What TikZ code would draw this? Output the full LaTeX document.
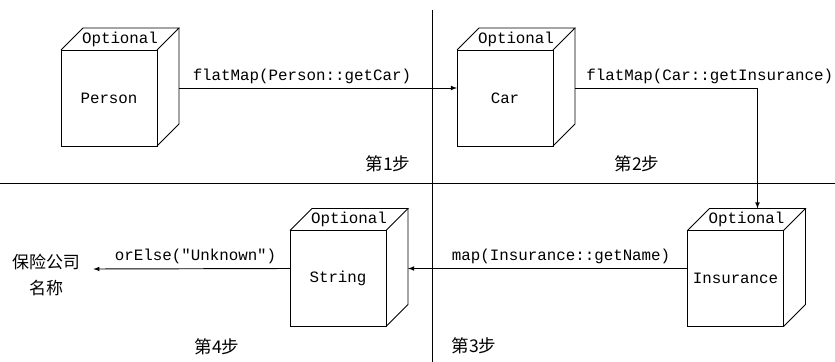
\documentclass[tikz,border=0pt]{standalone}
\usepackage{fontspec}
\setmonofont{Liberation Mono}
\newfontfamily\cjk{Noto Sans CJK SC}
\usetikzlibrary{calc}

\newcommand{\codefont}{\ttfamily\fontsize{13.5}{16}\selectfont}
% top and side of an Optional box
\newcommand{\optcube}[1]{%
  \draw (#1.north west) -- ++(22,22) -- ($(#1.north east)+(22,22)$) -- (#1.north east);
  \draw ($(#1.north east)+(22,22)$) -- ($(#1.south east)+(22,22)$) -- (#1.south east);
  \node[font=\codefont] (#1-opt) at ($(#1.north)+(11,11)$) {Optional};
}

\begin{document}
\begin{tikzpicture}[x=0.03cm,y=0.03cm,line width=0.8pt]
	\tikzset{>=latex}
	\tikzset{
		face/.style={draw, minimum size=2.88cm, inner sep=0pt, outer sep=0pt, font=\codefont},
		code/.style={font=\codefont},
		stepnum/.style={font=\cjk\fontsize{15}{18}\selectfont},
		flow/.style={->},
	}
	\useasboundingbox (0,0) rectangle (835,362);

	\draw (432,0) -- (432,352);
	\draw (0,179) -- (835,179);

	\node[face] (person) at (109,264) {Person};
	\node[face] (car) at (505,264) {Car};
	\node[face] (insurance) at (735.5,83.5) {Insurance};
	\node[face] (string) at (338,83.5) {String};
	\optcube{person}
	\optcube{car}
	\optcube{insurance}
	\optcube{string}

	\node[align=center, font=\cjk\fontsize{14.5}{22}\selectfont] (result) at (46,87) {保险公司\\名称};

	\node[stepnum] (step1) at (388,198) {第1步};
	\node[stepnum] (step2) at (637,198) {第2步};
	\node[stepnum] (step3) at (474,16) {第3步};
	\node[stepnum] (step4) at (217,15) {第4步};

	\draw[flow] ($(person.east)+(22,10)$) -- ($(car.west)+(0,10)$)
		node[code, pos=0, above right, xshift=8pt] {flatMap(Person::getCar)};
	\draw[flow] ($(car.east)+(22,10)$) -| ($(insurance.north)+(22,22)$)
		node[code, pos=0, above right, xshift=6pt] {flatMap(Car::getInsurance)};
	\draw[flow] ($(insurance.west)+(0,10)$) -- ($(string.east)+(22,10)$)
		node[code, pos=0, above left, xshift=-11pt] {map(Insurance::getName)};
	\draw[flow] ($(string.west)+(0,10)$) -- ($(result.east)+(9,6)$)
		node[code, pos=0, above left, xshift=-8pt] {orElse("Unknown")};

\end{tikzpicture}
\end{document}
